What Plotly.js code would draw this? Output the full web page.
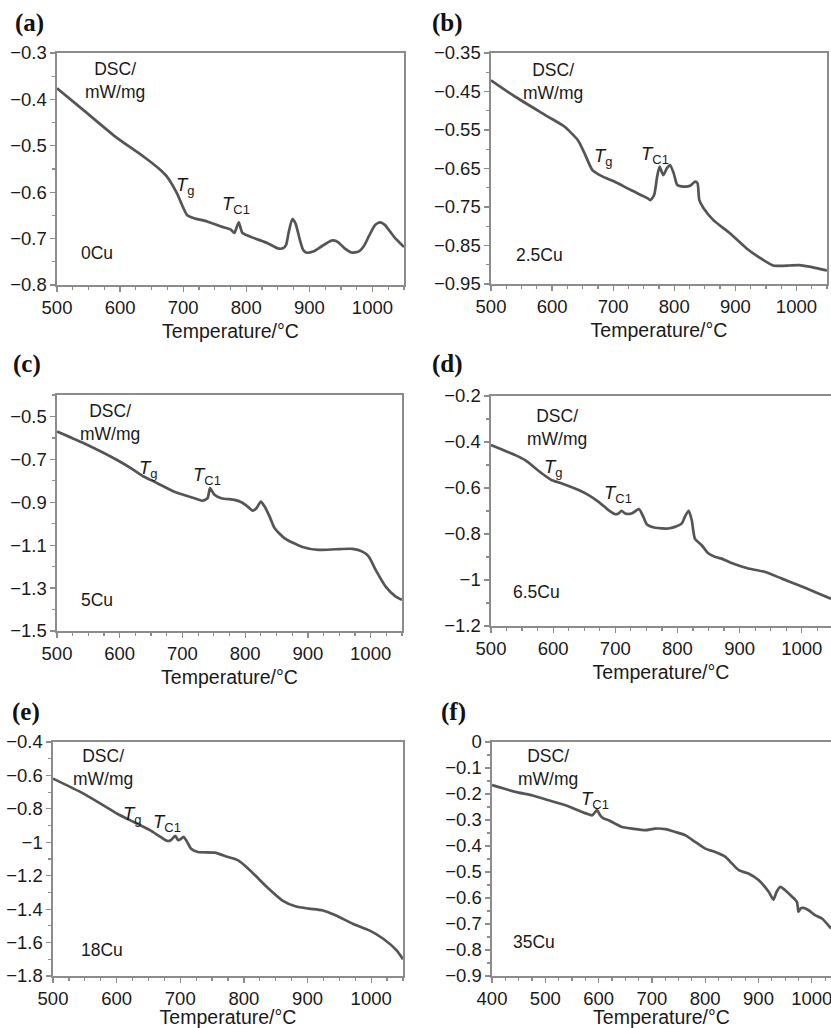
<!DOCTYPE html>
<html>
<head>
<meta charset="utf-8">
<script src="https://cdn.plot.ly/plotly-3.0.1.min.js"></script>
<style>
  html, body { margin: 0; padding: 0; background: #ffffff; }
  #chart { width: 831px; height: 1028px; }
</style>
</head>
<body>
<div id="chart"></div>
<script>
// ---------- data ----------
const panelLetters = ['(a)', '(b)', '(c)', '(d)', '(e)', '(f)'];
const sampleLabels = ['0Cu', '2.5Cu', '5Cu', '6.5Cu', '18Cu', '35Cu'];
const xTitle = 'Temperature/°C';
const yLabel = 'DSC/<br>mW/mg';

// (a) 0Cu
const tempA = [500, 541, 595, 637, 664, 674, 690, 706, 717, 738, 760, 776, 781, 788, 794, 813, 834, 850, 858, 863, 867, 873, 878, 885, 890, 895, 906, 919, 932, 938, 946, 956, 967, 978, 986, 994, 1004, 1012, 1020, 1028, 1036, 1047, 1050];
const dscA  = [-0.376, -0.422, -0.483, -0.523, -0.552, -0.566, -0.602, -0.649, -0.656, -0.663, -0.674, -0.681, -0.688, -0.665, -0.688, -0.699, -0.710, -0.721, -0.721, -0.714, -0.688, -0.658, -0.667, -0.703, -0.724, -0.730, -0.728, -0.717, -0.706, -0.704, -0.708, -0.721, -0.730, -0.728, -0.717, -0.696, -0.671, -0.665, -0.671, -0.685, -0.699, -0.714, -0.718];

// (b) 2.5Cu
const tempB = [500, 539, 593, 620, 642, 653, 666, 683, 702, 729, 756, 761, 767, 772, 776, 782, 788, 793, 799, 805, 815, 826, 834, 838, 841, 848, 864, 891, 918, 946, 962, 973, 989, 1005, 1021, 1047, 1050];
const dscB  = [-0.421, -0.463, -0.515, -0.541, -0.576, -0.610, -0.654, -0.671, -0.684, -0.706, -0.727, -0.732, -0.719, -0.671, -0.645, -0.667, -0.649, -0.641, -0.662, -0.693, -0.697, -0.695, -0.684, -0.688, -0.732, -0.753, -0.784, -0.818, -0.857, -0.888, -0.902, -0.903, -0.902, -0.901, -0.905, -0.914, -0.915];

// (c) 5Cu
const tempC = [500, 542, 595, 622, 638, 660, 686, 719, 732, 740, 744, 751, 762, 783, 794, 804, 812, 818, 825, 831, 839, 847, 863, 890, 917, 944, 971, 987, 997, 1008, 1024, 1040, 1050];
const dscC  = [-0.570, -0.624, -0.702, -0.749, -0.780, -0.811, -0.850, -0.881, -0.893, -0.881, -0.834, -0.865, -0.881, -0.889, -0.900, -0.920, -0.939, -0.928, -0.897, -0.920, -0.967, -1.021, -1.068, -1.107, -1.122, -1.119, -1.117, -1.130, -1.153, -1.215, -1.293, -1.340, -1.355];

// (d) 6.5Cu
const tempD = [500, 539, 555, 582, 598, 614, 641, 657, 673, 689, 700, 705, 710, 716, 726, 738, 745, 751, 764, 785, 796, 807, 812, 818, 823, 828, 839, 850, 861, 871, 887, 914, 941, 968, 995, 1021, 1047];
const dscD  = [-0.413, -0.457, -0.479, -0.537, -0.566, -0.580, -0.609, -0.631, -0.660, -0.696, -0.714, -0.711, -0.699, -0.711, -0.711, -0.692, -0.725, -0.759, -0.773, -0.776, -0.769, -0.754, -0.725, -0.699, -0.740, -0.820, -0.849, -0.885, -0.900, -0.907, -0.926, -0.950, -0.965, -0.994, -1.023, -1.052, -1.081];

// (e) 18Cu
const tempE = [500, 548, 601, 627, 653, 669, 680, 685, 692, 697, 701, 705, 710, 717, 728, 754, 775, 791, 807, 823, 839, 860, 881, 902, 923, 944, 971, 997, 1019, 1040, 1050];
const dscE  = [-0.619, -0.709, -0.829, -0.879, -0.929, -0.968, -0.992, -0.988, -0.962, -0.988, -0.980, -0.968, -0.992, -1.038, -1.058, -1.062, -1.088, -1.108, -1.158, -1.218, -1.278, -1.347, -1.383, -1.397, -1.407, -1.437, -1.487, -1.527, -1.577, -1.647, -1.700];

// (f) 35Cu
const tempF = [400, 444, 475, 506, 538, 569, 581, 588, 597, 603, 609, 619, 631, 644, 663, 688, 706, 725, 744, 763, 781, 800, 819, 838, 850, 863, 881, 900, 919, 928, 934, 941, 950, 963, 972, 975, 979, 984, 994, 1006, 1019, 1036];
const dscF  = [-0.166, -0.192, -0.205, -0.224, -0.243, -0.269, -0.278, -0.282, -0.262, -0.282, -0.294, -0.301, -0.314, -0.327, -0.333, -0.339, -0.333, -0.335, -0.346, -0.359, -0.384, -0.410, -0.423, -0.442, -0.467, -0.493, -0.506, -0.531, -0.576, -0.606, -0.576, -0.557, -0.570, -0.595, -0.615, -0.653, -0.640, -0.638, -0.647, -0.666, -0.679, -0.717];

// axis ranges and tick steps per panel
const xRanges = [[500, 1050], [500, 1050], [500, 1050], [500, 1047], [500, 1050], [400, 1036]];
const yRanges = [[-0.8, -0.3], [-0.95, -0.35], [-1.5, -0.4], [-1.2, -0.2], [-1.8, -0.4], [-0.9, 0]];
const yTick0  = [-0.8, -0.95, -1.5, -1.2, -1.8, -0.9];
const yDtick  = [0.1, 0.1, 0.2, 0.2, 0.2, 0.1];

// ---------- layout geometry (pixels in a 831 x 1028 page) ----------
const W = 831, H = 1028;
const plotBoxes = [ // [left, right, top, bottom]
  [57, 404, 53, 285],
  [491, 827, 53, 284],
  [57, 402, 395, 631],
  [491, 831, 396, 626],
  [53, 403, 742, 976],
  [492, 831, 742, 976]
];
const titleStandoff = [7, 7, 7, 7, 4, 7];
const letterPos = [[29, 23], [448, 23], [27, 364], [448, 364], [26, 712], [453, 712]];
const dscPos    = [[115, 81], [553, 82], [110, 422], [557, 427], [103, 767], [548, 767]];
const samplePos = [[97, 253], [539, 255], [97, 600], [536, 592], [102, 950], [534, 942]];
const tgPos     = [[185, 186], [603, 157], [148, 469], [553, 468], [132, 815], null];
const tcPos     = [[236, 205], [655, 155], [207, 476], [618, 494], [167, 823], [595, 800]];

const px = v => v / W;
const py = v => 1 - v / H;

const temps = [tempA, tempB, tempC, tempD, tempE, tempF];
const dscs  = [dscA, dscB, dscC, dscD, dscE, dscF];

const FONT = 'Liberation Sans, Arial, sans-serif';
const txtColor = '#1a1a1a';
const axColor = '#8c8c8c';

const traces = [];
const layout = {
  width: W, height: H,
  margin: {l: 0, r: 0, t: 0, b: 0},
  paper_bgcolor: '#ffffff',
  plot_bgcolor: '#ffffff',
  showlegend: false,
  font: {family: FONT, color: txtColor, size: 17},
  annotations: []
};

for (let i = 0; i < 6; i++) {
  const n = i === 0 ? '' : String(i + 1);
  const b = plotBoxes[i];
  traces.push({
    x: temps[i], y: dscs[i],
    xaxis: 'x' + n, yaxis: 'y' + n,
    type: 'scatter', mode: 'lines',
    line: {color: '#555555', width: 2.7, shape: 'spline', smoothing: 0.6},
    hoverinfo: 'skip'
  });
  layout['xaxis' + n] = {
    domain: [px(b[0]), px(b[1])],
    anchor: 'y' + n,
    range: xRanges[i],
    tickmode: 'linear', tick0: 0, dtick: 100,
    ticks: 'outside', ticklen: 5, tickwidth: 1.2, tickcolor: axColor,
    ticklabeloverflow: 'allow',
    minor: {dtick: 25, tick0: 0, ticks: 'outside', ticklen: 3, tickcolor: axColor, showgrid: false},
    showline: true, linecolor: axColor, linewidth: 1.6, mirror: true,
    showgrid: false, zeroline: false,
    tickfont: {family: FONT, size: 18.5, color: txtColor},
    title: {text: xTitle, font: {family: FONT, size: 19.5, color: txtColor}, standoff: titleStandoff[i]}
  };
  layout['yaxis' + n] = {
    domain: [py(b[3]), py(b[2])],
    anchor: 'x' + n,
    range: yRanges[i],
    tickmode: 'linear', tick0: yTick0[i], dtick: yDtick[i],
    tickformat: '.2~f',
    ticks: 'outside', ticklen: 5, tickwidth: 1.2, tickcolor: axColor,
    ticklabeloverflow: 'allow',
    minor: {dtick: yDtick[i] / 2, tick0: yTick0[i], ticks: 'outside', ticklen: 3, tickcolor: axColor, showgrid: false},
    showline: true, linecolor: axColor, linewidth: 1.6, mirror: true,
    showgrid: false, zeroline: false,
    tickfont: {family: FONT, size: 18.5, color: txtColor}
  };

  const ann = (pos, text, extra) => Object.assign({
    xref: 'paper', yref: 'paper', x: px(pos[0]), y: py(pos[1]),
    xanchor: 'center', yanchor: 'middle', showarrow: false, text: text,
    font: {family: FONT, size: 17.5, color: txtColor}
  }, extra || {});

  layout.annotations.push(ann(letterPos[i], '<b>' + panelLetters[i] + '</b>',
    {font: {family: 'Liberation Serif, Times New Roman, serif', size: 25, color: '#111'}}));
  layout.annotations.push(ann(dscPos[i], yLabel));
  layout.annotations.push(ann(samplePos[i], sampleLabels[i]));
  if (tgPos[i]) layout.annotations.push(ann(tgPos[i], '<i>T</i><sub>g</sub>', {font: {family: FONT, size: 18.5, color: txtColor}}));
  if (tcPos[i]) layout.annotations.push(ann(tcPos[i], '<i>T</i><sub>C1</sub>', {font: {family: FONT, size: 18.5, color: txtColor}}));
}

Plotly.newPlot('chart', traces, layout, {staticPlot: true, displayModeBar: false});
</script>
</body>
</html>
